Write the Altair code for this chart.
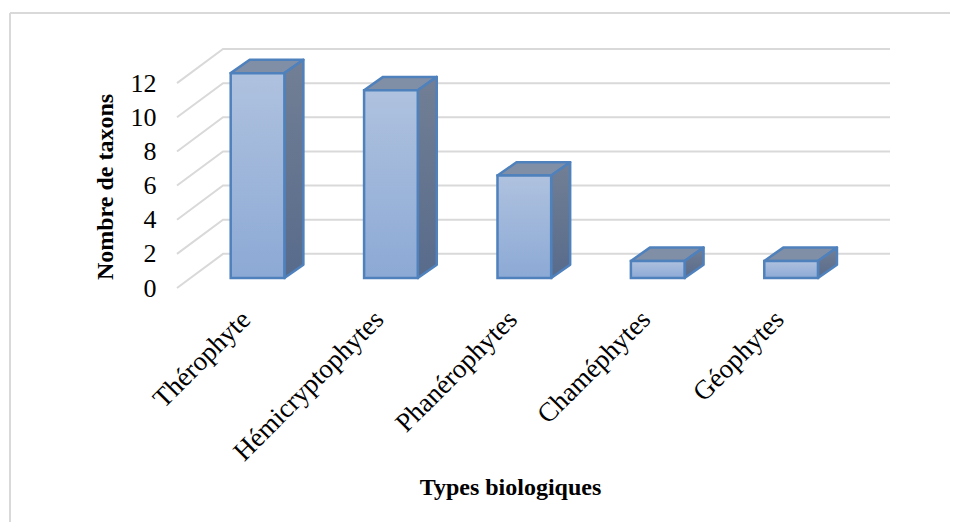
import altair as alt
import pandas as pd

categories = ["Thérophyte", "Hémicryptophytes", "Phanérophytes", "Chaméphytes", "Géophytes"]
values = [12, 11, 6, 1, 1]
y_ticks = [0, 2, 4, 6, 8, 10, 12]

# depth of the pseudo 3D scene, in axis units
WALL_DX, WALL_DY = 0.345, 2.0
BAR_DX, BAR_DY = 0.1424, 0.78
BAR_START, BAR_W, BAR_BASE = 0.4025, 0.4025, 0.586
X_MAX, Y_MAX = 5.345, 14
LABEL_AT = 0.515

front = pd.DataFrame({
    "x": [i + BAR_START for i in range(5)],
    "x2": [i + BAR_START + BAR_W for i in range(5)],
    "y": [BAR_BASE + v for v in values],
    "y2": [BAR_BASE] * 5,
})

side_rows, top_rows = [], []
for i, v in enumerate(values):
    x0 = i + BAR_START
    x1 = x0 + BAR_W
    t = BAR_BASE + v
    side_rows += [
        dict(g=i, x=x1, y=t, y2=BAR_BASE),
        dict(g=i, x=x1 + BAR_DX, y=t + BAR_DY, y2=BAR_BASE + BAR_DY),
    ]
    top_rows += [
        dict(g=i, x=x0, y=t, y2=t),
        dict(g=i, x=x0 + BAR_DX, y=t + BAR_DY, y2=t),
        dict(g=i, x=x1, y=t + BAR_DY, y2=t),
        dict(g=i, x=x1 + BAR_DX, y=t + BAR_DY, y2=t + BAR_DY),
    ]
side = pd.DataFrame(side_rows)
top = pd.DataFrame(top_rows)

grid_rows = []
for v in y_ticks:
    grid_rows += [
        dict(g=v, x=0, y=v),
        dict(g=v, x=WALL_DX, y=v + WALL_DY),
        dict(g=v, x=X_MAX, y=v + WALL_DY),
    ]
grid = pd.DataFrame(grid_rows)

x_scale = alt.Scale(domain=[0, X_MAX], nice=False, zero=False)
y_scale = alt.Scale(domain=[0, Y_MAX], nice=False, zero=False)
FONT = "Liberation Serif"
label_expr = "[" + ",".join(f"'{c}'" for c in categories) + f"][round(datum.value - {LABEL_AT})]"

x_axis = alt.Axis(
    values=[i + LABEL_AT for i in range(5)], labelExpr=label_expr, labelAngle=-45, labelAlign="right",
    labelBaseline="middle", labelFont=FONT, labelFontSize=27, labelColor="#000000", labelPadding=27,
    labelLimit=400, domain=False, ticks=False, grid=False, labelOverlap=False, labelFlush=False,
    title="Types biologiques", titleFont=FONT, titleFontSize=24, titleFontWeight="bold",
    titleColor="#000000", titleX=333, titleY=206, titleBaseline="alphabetic",
)
y_axis = alt.Axis(
    values=y_ticks, format="d", domain=False, ticks=False, grid=False, labelFont=FONT, labelFontSize=26,
    labelColor="#000000", labelPadding=21,
    title="Nombre de taxons", titleFont=FONT, titleFontSize=24, titleFontWeight="bold",
    titleColor="#000000", titleX=-65, titleY=137.5, titleBaseline="alphabetic",
)
X = alt.X("x:Q", scale=x_scale, axis=x_axis)
Y = alt.Y("y:Q", scale=y_scale, axis=y_axis)

gridlines = alt.Chart(grid).mark_line(color="#D9D9D9", strokeWidth=2, clip=False).encode(
    x=X, y=Y, detail="g:N", order=alt.Order("x:Q"),
)

BLUE = "#4F81BD"
front_grad = alt.Gradient(gradient="linear", x1=0, y1=0, x2=0, y2=1,
                          stops=[alt.GradientStop(offset=0, color="#AFC2DF"),
                                 alt.GradientStop(offset=1, color="#8CA9D5")])
side_grad = alt.Gradient(gradient="linear", x1=0, y1=0, x2=0, y2=1,
                         stops=[alt.GradientStop(offset=0, color="#727F95"),
                                alt.GradientStop(offset=1, color="#586B8B")])

top_layer = alt.Chart(top).mark_area(color="#808FA6", stroke=BLUE, strokeWidth=2.5, strokeJoin="round").encode(
    x=X, y=Y, y2="y2:Q", detail="g:N",
)
side_layer = alt.Chart(side).mark_area(color=side_grad, stroke=BLUE, strokeWidth=2.5, strokeJoin="round").encode(
    x=X, y=Y, y2="y2:Q", detail="g:N",
)
front_layer = alt.Chart(front).mark_rect(color=front_grad, stroke=BLUE, strokeWidth=2.5).encode(
    x=X, x2="x2:Q", y=Y, y2="y2:Q",
)

# chart frame: only the top and left edges appear in the picture
one = pd.DataFrame({"a": [0]})
frame_top = alt.Chart(one).mark_rule(color="#D9D9D9", strokeWidth=2, clip=False).encode(
    x=alt.value(-167), x2=alt.value(773), y=alt.value(-36))
frame_left = alt.Chart(one).mark_rule(color="#D9D9D9", strokeWidth=2, clip=False).encode(
    x=alt.value(-167), y=alt.value(-36), y2=alt.value(473))

chart = alt.layer(gridlines, top_layer, side_layer, front_layer, frame_top, frame_left).properties(
    width=713, height=239,
    padding={"left": 169, "top": 41, "right": 60, "bottom": 234},
    autosize=alt.AutoSizeParams(type="none"),
).configure_view(stroke=None)

chart.save("out.html", embed_options={"renderer": "svg", "actions": False})
